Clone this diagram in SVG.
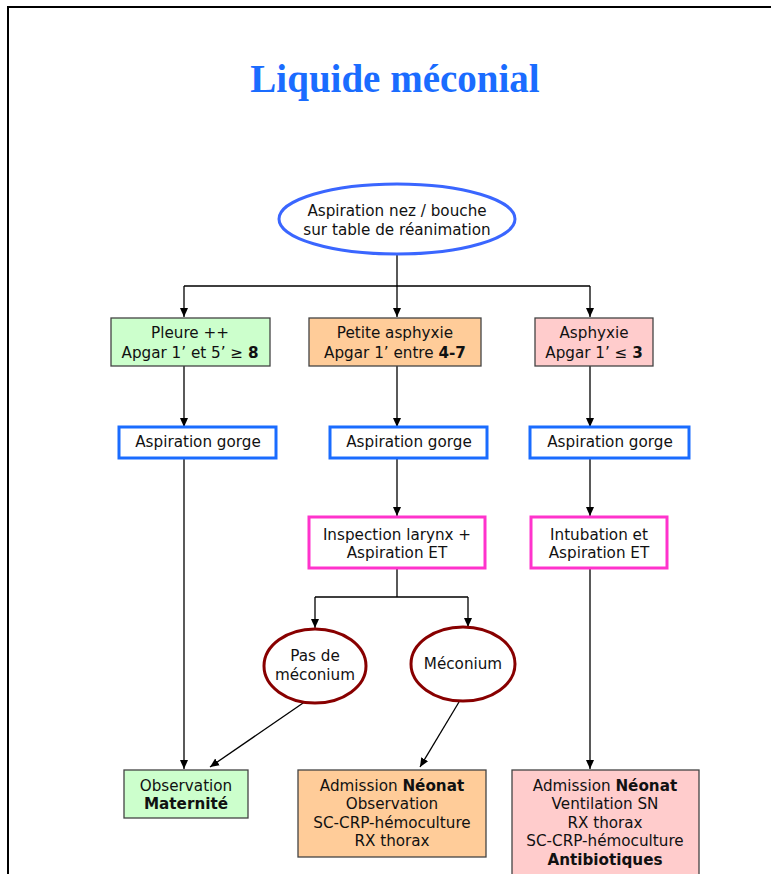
<svg xmlns="http://www.w3.org/2000/svg" width="771" height="874" viewBox="0 0 771 874">
  <defs>
    <marker id="arrow" markerWidth="10" markerHeight="10" refX="9" refY="5" orient="auto" markerUnits="userSpaceOnUse">
      <path d="M0,1 L9,5 L0,9 Z" fill="#000"/>
    </marker>
    <style>
      text { font-family: "DejaVu Sans", "Liberation Sans", sans-serif; font-size: 15.2px; fill: #111; text-anchor: middle; }
      .title { font-family: "Liberation Serif", "DejaVu Serif", serif; font-size: 39px; font-weight: bold; fill: #1a6cff; }
      .b { font-weight: bold; }
      .link { fill: none; stroke: #000; stroke-width: 1.3; }
      .arr { marker-end: url(#arrow); }
      .green { fill: #ccffcc; stroke: #444; stroke-width: 1.3; }
      .orange { fill: #ffcc99; stroke: #444; stroke-width: 1.3; }
      .pink { fill: #ffcccc; stroke: #444; stroke-width: 1.3; }
      .blue { fill: #fff; stroke: #1a6cff; stroke-width: 3; }
      .magenta { fill: #fff; stroke: #ff33cc; stroke-width: 3; }
      .oval-blue { fill: #fff; stroke: #3a66ff; stroke-width: 3; }
      .oval-red { fill: #fff; stroke: #880000; stroke-width: 3; }
    </style>
  </defs>

  <rect width="771" height="874" fill="#fff"/>
  <!-- page frame (top and left edges) -->
  <path d="M8,874 L8,7 L771,7" fill="none" stroke="#000" stroke-width="2"/>

  <text class="title" x="395" y="92">Liquide méconial</text>

  <!-- connectors -->
  <g id="connectors">
    <path class="link" d="M397,253 L397,286 M184,286 L590,286"/>
    <path class="link arr" d="M184,286 L184,317"/>
    <path class="link arr" d="M397,286 L397,317"/>
    <path class="link arr" d="M590,286 L590,317"/>
    <path class="link arr" d="M184,366 L184,427"/>
    <path class="link arr" d="M397,366 L397,427"/>
    <path class="link arr" d="M590,366 L590,427"/>
    <path class="link arr" d="M184,458 L184,769"/>
    <path class="link arr" d="M397,458 L397,516"/>
    <path class="link arr" d="M590,458 L590,516"/>
    <path class="link" d="M397,568 L397,597 M315,597 L468,597"/>
    <path class="link arr" d="M315,597 L315,628"/>
    <path class="link arr" d="M468,597 L468,627"/>
    <path class="link arr" d="M306,701 L210,767"/>
    <path class="link arr" d="M459,702 L420,767"/>
    <path class="link arr" d="M590,568 L590,769"/>
  </g>

  <g id="start">
    <ellipse class="oval-blue" cx="397" cy="219" rx="118" ry="35"/>
    <text x="397" y="216">Aspiration nez / bouche</text>
    <text x="397" y="235">sur table de réanimation</text>
  </g>

  <g id="pleure">
    <rect class="green" x="111" y="318" width="159" height="48"/>
    <text x="190" y="338">Pleure ++</text>
    <text x="190" y="358">Apgar 1’ et 5’ ≥ <tspan class="b">8</tspan></text>
  </g>

  <g id="petite-asphyxie">
    <rect class="orange" x="309" y="318" width="172" height="48"/>
    <text x="395" y="338">Petite asphyxie</text>
    <text x="395" y="358">Apgar 1’ entre <tspan class="b">4-7</tspan></text>
  </g>

  <g id="asphyxie">
    <rect class="pink" x="535" y="318" width="118" height="48"/>
    <text x="594" y="338">Asphyxie</text>
    <text x="594" y="358">Apgar 1’ ≤ <tspan class="b">3</tspan></text>
  </g>

  <g id="gorge-1">
    <rect class="blue" x="119" y="427" width="157" height="31"/>
    <text x="198" y="447">Aspiration gorge</text>
  </g>
  <g id="gorge-2">
    <rect class="blue" x="330" y="427" width="157" height="31"/>
    <text x="409" y="447">Aspiration gorge</text>
  </g>
  <g id="gorge-3">
    <rect class="blue" x="530" y="427" width="159" height="31"/>
    <text x="610" y="447">Aspiration gorge</text>
  </g>

  <g id="inspection">
    <rect class="magenta" x="309" y="517" width="176" height="51"/>
    <text x="397" y="540">Inspection larynx +</text>
    <text x="397" y="558">Aspiration ET</text>
  </g>

  <g id="intubation">
    <rect class="magenta" x="531" y="517" width="136" height="51"/>
    <text x="599" y="540">Intubation et</text>
    <text x="599" y="558">Aspiration ET</text>
  </g>

  <g id="pas-meconium">
    <ellipse class="oval-red" cx="315" cy="666" rx="51" ry="37"/>
    <text x="315" y="661">Pas de</text>
    <text x="315" y="680">méconium</text>
  </g>

  <g id="meconium">
    <ellipse class="oval-red" cx="463" cy="664" rx="52" ry="37"/>
    <text x="463" y="669">Méconium</text>
  </g>

  <g id="observation-maternite">
    <rect class="green" x="124" y="770" width="124" height="48"/>
    <text x="186" y="791">Observation</text>
    <text x="186" y="809" class="b">Maternité</text>
  </g>

  <g id="admission-observation">
    <rect class="orange" x="298" y="770" width="188" height="87"/>
    <text x="392" y="791">Admission <tspan class="b">Néonat</tspan></text>
    <text x="392" y="809">Observation</text>
    <text x="392" y="828">SC-CRP-hémoculture</text>
    <text x="392" y="846">RX thorax</text>
  </g>

  <g id="admission-ventilation">
    <rect class="pink" x="512" y="770" width="187" height="110"/>
    <text x="605" y="791">Admission <tspan class="b">Néonat</tspan></text>
    <text x="605" y="809">Ventilation SN</text>
    <text x="605" y="828">RX thorax</text>
    <text x="605" y="846">SC-CRP-hémoculture</text>
    <text x="605" y="865" class="b">Antibiotiques</text>
  </g>
</svg>
